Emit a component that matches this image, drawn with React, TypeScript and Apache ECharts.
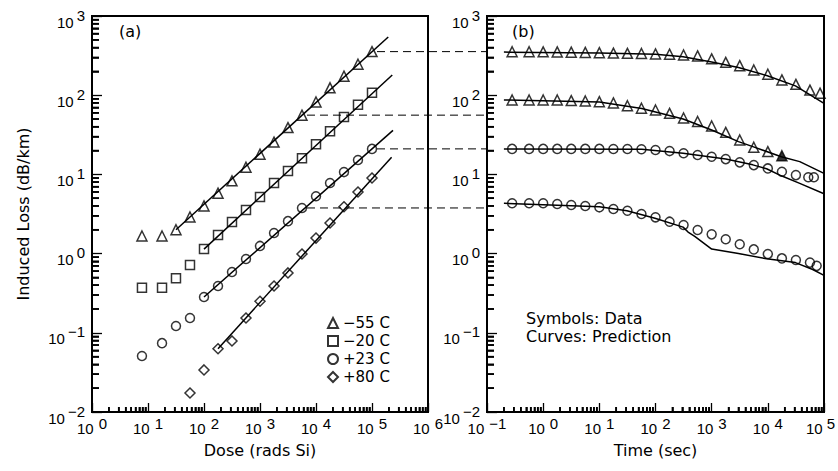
import React, { useEffect, useRef } from "react";
import * as echarts from "echarts";

// ---------- Panel (a): induced loss vs dose ----------
const doseA = [7.8, 17.8, 31.6, 56.2, 100, 178, 316, 562, 1000, 1780, 3160, 5620, 10000, 17800, 31600, 56200, 100000];
const lossM55 = [1.67, 1.67, 2.0, 2.9, 4.0, 5.8, 8.3, 12.3, 18, 25.6, 39, 56, 82, 124, 174, 246, 355];
const lossM20 = [0.37, 0.37, 0.49, 0.72, 1.14, 1.72, 2.5, 3.55, 5.2, 7.8, 11, 16, 24, 35, 53, 76, 107];
const lossP23 = [0.051, 0.074, 0.122, 0.154, 0.283, 0.39, 0.586, 0.855, 1.25, 1.82, 2.57, 3.77, 5.3, 7.8, 10.7, 15.2, 21];
const doseP80 = [56.2, 100, 178, 316, 562, 1000, 1780, 3160, 5620, 10000, 17800, 31600, 56200, 100000];
const lossP80 = [0.0174, 0.034, 0.063, 0.079, 0.154, 0.25, 0.39, 0.57, 0.99, 1.57, 2.43, 3.9, 6.0, 9.0];

// fitted power-law lines (start / end)
const fitDoseM55 = [31.6, 195000];
const fitLossM55 = [2.0, 544];
const fitDoseM20 = [100, 230000];
const fitLossM20 = [1.14, 180];
const fitDoseP23 = [100, 237000];
const fitLossP23 = [0.283, 36];
const fitDoseP80 = [178, 224000];
const fitLossP80 = [0.063, 16.5];

// ---------- Panel (b): recovery vs time ----------
const timeB = [0.28, 0.562, 1, 1.78, 3.16, 5.62, 10, 17.8, 31.6, 56.2, 100, 178, 316, 562, 1000, 1780, 3160, 5620, 10000, 17800, 31600, 56200, 85000];
const recM55hi = [354, 354, 353, 352, 349, 347, 344, 340, 338, 336, 332, 330, 322, 313, 288, 260, 236, 208, 184, 156, 137, 116, 106];
const timeM55lo = [0.28, 0.562, 1, 1.78, 3.16, 5.62, 10, 17.8, 31.6, 56.2, 100, 178, 316, 562, 1000, 1780, 3160, 5620, 10000, 17800];
const recM55lo = [87, 87, 87, 87, 85.5, 84.5, 82.8, 80, 73.6, 68.4, 65, 59, 51.5, 46.5, 40.8, 34, 27.2, 22, 19.4, 17.2];
const timeP23hi = [0.28, 0.562, 1, 1.78, 3.16, 5.62, 10, 17.8, 31.6, 56.2, 100, 178, 316, 562, 1000, 1780, 3160, 5620, 10000, 17800, 31600, 52500, 66000];
const recP23hi = [21, 21, 21, 21, 21, 21, 21, 20.9, 20.9, 20.8, 20.3, 19.7, 18.5, 17.6, 16.7, 15.6, 14.2, 13.1, 11.9, 10.8, 9.8, 9.2, 9.2];
const timeP23lo = [0.28, 0.562, 1, 1.78, 3.16, 5.62, 10, 17.8, 31.6, 56.2, 100, 178, 316, 562, 1000, 1780, 3160, 5620, 10000, 17800, 31600, 56200, 74000];
const recP23lo = [4.32, 4.32, 4.32, 4.23, 4.11, 3.99, 3.84, 3.66, 3.48, 3.16, 2.87, 2.53, 2.3, 1.99, 1.75, 1.52, 1.31, 1.13, 0.99, 0.87, 0.83, 0.77, 0.7];

// prediction curves
const predTimeM55hi = [0.2, 10, 100, 310, 1000, 3000, 9500, 31000, 100000];
const predM55hi = [350, 342, 330, 305, 263, 224, 177, 131, 79];
const predTimeM55lo = [0.2, 10, 57, 310, 1000, 3000, 5400, 17400, 37000, 100000];
const predM55lo = [87, 82, 68, 50, 36.4, 25.9, 22.4, 16.7, 14.5, 10.3];
const predTimeP23hi = [0.2, 57, 310, 1780, 5400, 9500, 17400, 37000, 100000];
const predP23hi = [21, 20.8, 18.5, 15.6, 13.2, 11.8, 9.6, 7.7, 5.7];
const predTimeP23lo = [0.2, 10, 31, 98, 310, 380, 500, 1000, 3000, 9500, 31000, 63000, 100000];
const predP23lo = [4.32, 3.9, 3.48, 2.8, 2.16, 1.87, 1.65, 1.14, 1.0, 0.86, 0.77, 0.63, 0.53];

const legendNames = ["−55 C", "−20 C", "+23 C", "+80 C"];

// log-axis minor tick multipliers within each decade
const minorMult = [2, 3, 4, 5, 6, 7, 8, 9];

const TXT = "DejaVu Sans";
const NUM = "Liberation Sans";

const zip = (a: number[], b: number[]) => a.map((v, i) => [v, b[i]]);

const expStr = (v: number) => {
  const e = Math.round(Math.log10(v));
  return e < 0 ? "−" + Math.abs(e) : String(e);
};
const expLabelA = (v: number) => `{b|10}{e|${expStr(v)}}`;
const expLabelB = (v: number) => (v >= 99999 ? `{b|10}{el|${expStr(v)}}` : `{b|10}{e|${expStr(v)}}`);

const hollow = { color: "rgba(0,0,0,0)", borderColor: "#000", borderWidth: 1.5 };

function decadeMinors(lo: number, hi: number) {
  const out: number[] = [];
  for (let e = Math.round(Math.log10(lo)); e < Math.round(Math.log10(hi)); e++) {
    minorMult.forEach((m) => out.push(m * Math.pow(10, e)));
  }
  return out;
}

function xAxisCfg(gridIndex: number, min: number, max: number, name: string, fmt: any) {
  return {
    type: "log",
    logBase: 10,
    gridIndex,
    min,
    max,
    splitNumber: 6,
    position: "bottom",
    axisLine: { show: true, lineStyle: { color: "#000", width: 2 } },
    axisTick: { show: true, inside: true, length: 9, lineStyle: { color: "#000", width: 1.3 } },
    minorTick: { show: false },
    splitLine: { show: false },
    axisLabel: {
      formatter: fmt,
      margin: 4,
      color: "#000",
      rich: {
        b: { fontFamily: NUM, fontSize: 15, color: "#000", lineHeight: 20, verticalAlign: "bottom" },
        e: { fontFamily: NUM, fontSize: 15, color: "#000", verticalAlign: "top", padding: [0, 0, 0, 5] },
        el: { fontFamily: NUM, fontSize: 15, color: "#000", verticalAlign: "top", padding: [0, 7, 0, 4] },
      },
    },
    name,
    nameLocation: "middle",
    nameGap: 30,
    nameTextStyle: { fontFamily: TXT, fontSize: 16, color: "#000" },
  };
}

function yAxisCfg(gridIndex: number, name: string) {
  return {
    type: "log",
    logBase: 10,
    gridIndex,
    min: 0.01,
    max: 1000,
    splitNumber: 5,
    position: "left",
    axisLine: { show: true, lineStyle: { color: "#000", width: 2 } },
    axisTick: { show: true, inside: true, length: 10, lineStyle: { color: "#000", width: 1.3 } },
    minorTick: { show: false },
    splitLine: { show: false },
    axisLabel: {
      formatter: expLabelA,
      margin: 7,
      color: "#000",
      rich: {
        b: { fontFamily: NUM, fontSize: 15, color: "#000", lineHeight: 27, verticalAlign: "bottom" },
        e: { fontFamily: NUM, fontSize: 15, color: "#000", verticalAlign: "top", padding: [5, 0, 0, 3] },
      },
    },
    name,
    nameLocation: "middle",
    nameGap: 61,
    nameTextStyle: { fontFamily: TXT, fontSize: 16, color: "#000" },
  };
}

// overlay axis carrying only the 2..9 minor ticks
function minorAxis(gridIndex: number, min: number, max: number, pos: string, len: number) {
  return {
    type: "log",
    logBase: 10,
    gridIndex,
    min,
    max,
    position: pos,
    axisLine: { show: false },
    axisLabel: { show: false },
    splitLine: { show: false },
    axisTick: {
      show: true,
      inside: true,
      length: len,
      customValues: decadeMinors(min, max),
      lineStyle: { color: "#000", width: 1.6 },
    },
  };
}

function scatter(name: string, sym: string, size: number, data: any[], axis: number) {
  return {
    type: "scatter",
    name,
    xAxisIndex: axis,
    yAxisIndex: axis,
    symbol: sym,
    symbolSize: size,
    data,
    itemStyle: hollow,
    silent: true,
    z: 4,
  };
}

function curve(data: number[][], axis: number) {
  return {
    type: "line",
    xAxisIndex: axis,
    yAxisIndex: axis,
    data,
    showSymbol: false,
    symbol: "none",
    lineStyle: { color: "#000", width: 1.5 },
    silent: true,
    z: 3,
  };
}

const panelRanges = [
  { grid: 0, xMin: 1, xMax: 1000000, yMin: 0.01, yMax: 1000 },
  { grid: 1, xMin: 0.1, xMax: 100000, yMin: 0.01, yMax: 1000 },
];

export default function App() {
  const ref = useRef<HTMLDivElement>(null);

  useEffect(() => {
    if (!ref.current) return;
    const chart = echarts.init(ref.current, undefined, { renderer: "svg" });

    const m55loData: any[] = zip(timeM55lo, recM55lo);
    const last = m55loData.length - 1;
    m55loData[last] = { value: m55loData[last], itemStyle: { color: "#000", borderColor: "#000", borderWidth: 1.5 } };

    chart.setOption({
      animation: false,
      backgroundColor: "#fff",
      textStyle: { fontFamily: TXT },
      grid: [
        { left: 92, top: 16, width: 336, height: 396, show: true, borderColor: "#000", borderWidth: 2, containLabel: false, outerBoundsMode: "none" },
        { left: 487, top: 16, width: 337, height: 396, show: true, borderColor: "#000", borderWidth: 2, containLabel: false, outerBoundsMode: "none" },
      ],
      xAxis: [
        xAxisCfg(0, 1, 1000000, "Dose (rads Si)", expLabelA),
        xAxisCfg(1, 0.1, 100000, "Time (sec)", expLabelB),
        minorAxis(0, 1, 1000000, "bottom", 5),
        minorAxis(1, 0.1, 100000, "bottom", 5),
      ],
      yAxis: [
        yAxisCfg(0, "Induced Loss (dB/km)"),
        yAxisCfg(1, ""),
        minorAxis(0, 0.01, 1000, "left", 7),
        minorAxis(1, 0.01, 1000, "left", 7),
      ],
      legend: {
        orient: "vertical",
        left: 322,
        top: 309,
        itemWidth: 10,
        itemHeight: 10,
        itemGap: 0,
        selectedMode: false,
        data: legendNames,
        textStyle: { fontFamily: TXT, fontSize: 15, color: "#000", lineHeight: 18 },
      },
      series: [
        scatter(legendNames[0], "triangle", 10, zip(doseA, lossM55), 0),
        scatter(legendNames[1], "rect", 9, zip(doseA, lossM20), 0),
        scatter(legendNames[2], "circle", 9, zip(doseA, lossP23), 0),
        scatter(legendNames[3], "diamond", 10, zip(doseP80, lossP80), 0),
        curve(zip(fitDoseM55, fitLossM55), 0),
        curve(zip(fitDoseM20, fitLossM20), 0),
        curve(zip(fitDoseP23, fitLossP23), 0),
        curve(zip(fitDoseP80, fitLossP80), 0),
        scatter("−55 C hi", "triangle", 10, zip(timeB, recM55hi), 1),
        scatter("−55 C lo", "triangle", 10, m55loData, 1),
        scatter("+23 C hi", "circle", 9, zip(timeP23hi, recP23hi), 1),
        scatter("+23 C lo", "circle", 9, zip(timeP23lo, recP23lo), 1),
        curve(zip(predTimeM55hi, predM55hi), 1),
        curve(zip(predTimeM55lo, predM55lo), 1),
        curve(zip(predTimeP23hi, predP23hi), 1),
        curve(zip(predTimeP23lo, predP23lo), 1),
      ],
    });

    const gfx: any[] = [];

    // minor ticks also drawn as graphic lines placed through the axes' scales
    panelRanges.forEach((r) => {
      decadeMinors(r.xMin, r.xMax).forEach((v) => {
        const p = chart.convertToPixel({ gridIndex: r.grid }, [v, r.yMin]) as unknown as number[];
        gfx.push({ type: "line", silent: true, z: 20, shape: { x1: p[0], y1: p[1] - 1, x2: p[0], y2: p[1] - 5 }, style: { stroke: "#000", lineWidth: 1.6 } });
      });
      decadeMinors(r.yMin, r.yMax).forEach((v) => {
        const p = chart.convertToPixel({ gridIndex: r.grid }, [r.xMin, v]) as unknown as number[];
        gfx.push({ type: "line", silent: true, z: 20, shape: { x1: p[0] + 1, y1: p[1], x2: p[0] + 7, y2: p[1] }, style: { stroke: "#000", lineWidth: 1.6 } });
      });
    });

    // dashed links from panel (a) to panel (b)
    const links = [
      [doseA[16], lossM55[16]],
      [doseA[11], lossM55[11]],
      [doseA[16], lossP23[16]],
      [doseA[11], lossP23[11]],
    ];
    const xEnd = chart.convertToPixel({ xAxisIndex: 1 }, 0.1) as unknown as number;
    links.forEach((lk) => {
      const p = chart.convertToPixel({ gridIndex: 0 }, lk) as unknown as number[];
      gfx.push({
        type: "line",
        silent: true,
        z: 2,
        shape: { x1: p[0] + 5, y1: p[1], x2: xEnd, y2: p[1] },
        style: { stroke: "#000", lineWidth: 1, lineDash: [8, 5] },
      });
    });

    const label = (t: string, x: number, y: number) => ({
      type: "text",
      left: x,
      top: y,
      silent: true,
      style: { text: t, fontFamily: TXT, fontSize: 16, fill: "#000" },
    });
    gfx.push(label("(a)", 119, 23), label("(b)", 512, 23), label("Symbols: Data", 526, 310), label("Curves: Prediction", 526, 328));

    chart.setOption({ graphic: gfx });

    return () => chart.dispose();
  }, []);

  return <div ref={ref} style={{ position: "absolute", left: 0, top: 0, width: 838, height: 471 }} />;
}
